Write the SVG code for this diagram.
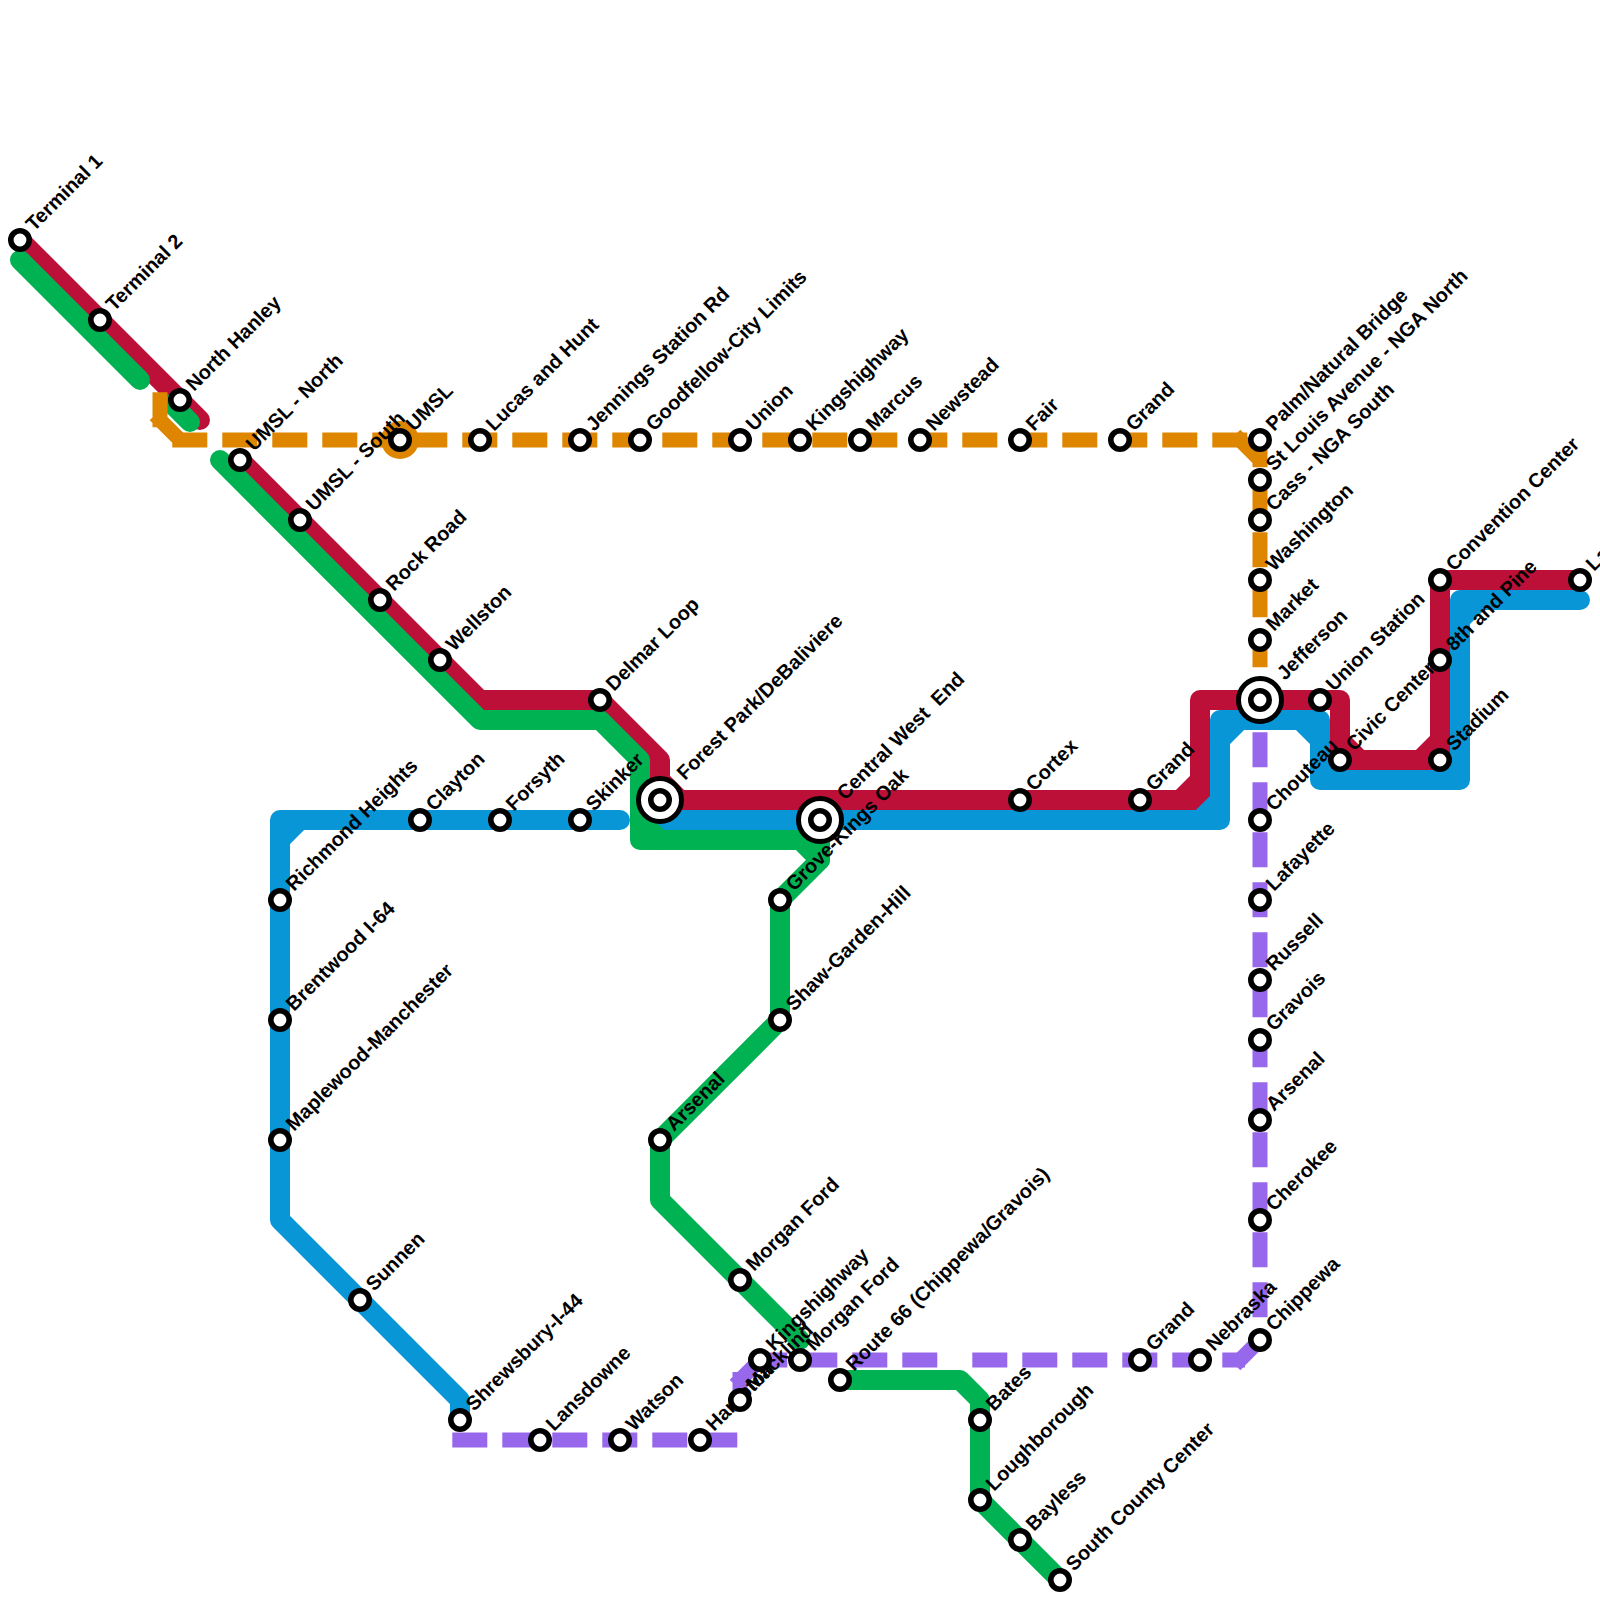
<svg xmlns="http://www.w3.org/2000/svg" width="1600" height="1600" viewBox="0 0 1600 1600">
<style>
.l{fill:none;stroke-width:20;stroke-linecap:round;stroke-linejoin:round}
.d{fill:none;stroke-width:15;stroke-linecap:butt;stroke-linejoin:miter}
.da{stroke-dasharray:35 15}
.r{stroke:#bd1038}.g{stroke:#00b251}.b{stroke:#0896d7}.o{stroke:#df8600}.p{stroke:#9768ec}
.s{fill:#fff;stroke:#000;stroke-width:5.6}
.x{fill:#fff;stroke:#000;stroke-width:5}
text{font-family:"Liberation Sans",Arial,sans-serif;font-size:20px;font-weight:700;fill:#000;white-space:pre}
</style>
<rect width="1600" height="1600" fill="#fff"/>
<g id="connectors">
<path class="l r" d="M20,240L200,420M240,460L480,700H600L660,760V800H1200V700H1340V760H1440V580H1580"/>
<path class="l r" d="M660,780L680,800M1180,800L1200,780M1340,740L1360,760M1420,760L1440,740"/>
<path class="l b" d="M620,820H280V1220L460,1400V1420"/>
<path class="l b" d="M300,820L280,840M660,820H1220V720H1320V780H1460V600H1580"/>
<path class="l b" d="M1200,820L1220,800M1220,740L1240,720M1300,720L1320,740M1320,760L1340,780M1440,780L1460,760M1460,620L1480,600"/>
<path class="l g" d="M20,260L140,380M172,404L190,422M220,460L480,720H600L640,760V840H820V860L780,900V1020L660,1140V1200L800,1340"/>
<path class="l g" d="M640,820L660,840M800,840L820,860M840,1380H960L980,1400V1500L1060,1580"/>
<path class="d da p" d="M1260,732.3V1317.3"/>
<path class="d da p" d="M452.3,1440H737.3"/>
<path class="d da p" d="M752.3,1360H937.3"/>
<path class="d da p" d="M972.3,1360H1245"/>
<path class="d p" d="M1265,1335L1235,1365M765,1355L735,1385M740,1372V1407"/>
<circle cx="400" cy="440" r="19" fill="#df8600"/>
<path class="d o" d="M160,392.3V427.3M155,415L180,440M1235,435L1258,458"/>
<path class="d da o" d="M172.3,440H407.3"/>
<path class="d da o" d="M412.3,440H1247.3"/>
<path class="d da o" d="M1260,432.3V667.3"/>
</g>
<g id="n1"><circle class="s" cx="20" cy="240" r="9.2"/><text transform="translate(34,232) rotate(-45)">Terminal 1</text></g>
<g id="n2"><circle class="s" cx="100" cy="320" r="9.2"/><text transform="translate(114,312) rotate(-45)">Terminal 2</text></g>
<g id="n3"><circle class="s" cx="180" cy="400" r="9.2"/><text transform="translate(194,392) rotate(-45)">North Hanley</text></g>
<g id="n4"><circle class="s" cx="240" cy="460" r="9.2"/><text transform="translate(254,452) rotate(-45)">UMSL - North</text></g>
<g id="n5"><circle class="s" cx="300" cy="520" r="9.2"/><text transform="translate(314,512) rotate(-45)">UMSL - South</text></g>
<g id="n6"><circle class="s" cx="380" cy="600" r="9.2"/><text transform="translate(394,592) rotate(-45)">Rock Road</text></g>
<g id="n7"><circle class="s" cx="440" cy="660" r="9.2"/><text transform="translate(454,652) rotate(-45)">Wellston</text></g>
<g id="n8"><circle class="s" cx="600" cy="700" r="9.2"/><text transform="translate(614,692) rotate(-45)">Delmar Loop</text></g>
<g id="n9"><circle class="x" cx="660" cy="800" r="21.5"/><circle class="s" cx="660" cy="800" r="9.2"/><text transform="translate(685,781) rotate(-45)">Forest Park/DeBaliviere</text></g>
<g id="n10"><circle class="x" cx="820" cy="820" r="21.5"/><circle class="s" cx="820" cy="820" r="9.2"/><text transform="translate(845,801) rotate(-45)">Central West  End</text></g>
<g id="n11"><circle class="s" cx="1020" cy="800" r="9.2"/><text transform="translate(1034,792) rotate(-45)">Cortex</text></g>
<g id="n12"><circle class="s" cx="1140" cy="800" r="9.2"/><text transform="translate(1154,792) rotate(-45)">Grand</text></g>
<g id="n13"><circle class="x" cx="1260" cy="700" r="21.5"/><circle class="s" cx="1260" cy="700" r="9.2"/><text transform="translate(1285,681) rotate(-45)">Jefferson</text></g>
<g id="n14"><circle class="s" cx="1320" cy="700" r="9.2"/><text transform="translate(1334,692) rotate(-45)">Union Station</text></g>
<g id="n15"><circle class="s" cx="1340" cy="760" r="9.2"/><text transform="translate(1354,752) rotate(-45)">Civic Center</text></g>
<g id="n16"><circle class="s" cx="1440" cy="760" r="9.2"/><text transform="translate(1454,752) rotate(-45)">Stadium</text></g>
<g id="n17"><circle class="s" cx="1440" cy="660" r="9.2"/><text transform="translate(1454,652) rotate(-45)">8th and Pine</text></g>
<g id="n18"><circle class="s" cx="1440" cy="580" r="9.2"/><text transform="translate(1454,572) rotate(-45)">Convention Center</text></g>
<g id="n19"><circle class="s" cx="1580" cy="580" r="9.2"/><text transform="translate(1594,572) rotate(-45)">Laclede's Landing</text></g>
<g id="n20"><circle class="s" cx="400" cy="440" r="9.2"/><text transform="translate(414,432) rotate(-45)">UMSL</text></g>
<g id="n21"><circle class="s" cx="480" cy="440" r="9.2"/><text transform="translate(494,432) rotate(-45)">Lucas and Hunt</text></g>
<g id="n22"><circle class="s" cx="580" cy="440" r="9.2"/><text transform="translate(594,432) rotate(-45)">Jennings Station Rd</text></g>
<g id="n23"><circle class="s" cx="640" cy="440" r="9.2"/><text transform="translate(654,432) rotate(-45)">Goodfellow-City Limits</text></g>
<g id="n24"><circle class="s" cx="740" cy="440" r="9.2"/><text transform="translate(754,432) rotate(-45)">Union</text></g>
<g id="n25"><circle class="s" cx="800" cy="440" r="9.2"/><text transform="translate(814,432) rotate(-45)">Kingshighway</text></g>
<g id="n26"><circle class="s" cx="860" cy="440" r="9.2"/><text transform="translate(874,432) rotate(-45)">Marcus</text></g>
<g id="n27"><circle class="s" cx="920" cy="440" r="9.2"/><text transform="translate(934,432) rotate(-45)">Newstead</text></g>
<g id="n28"><circle class="s" cx="1020" cy="440" r="9.2"/><text transform="translate(1034,432) rotate(-45)">Fair</text></g>
<g id="n29"><circle class="s" cx="1120" cy="440" r="9.2"/><text transform="translate(1134,432) rotate(-45)">Grand</text></g>
<g id="n30"><circle class="s" cx="1260" cy="440" r="9.2"/><text transform="translate(1274,432) rotate(-45)">Palm/Natural Bridge</text></g>
<g id="n31"><circle class="s" cx="1260" cy="480" r="9.2"/><text transform="translate(1274,472) rotate(-45)">St Louis Avenue - NGA North</text></g>
<g id="n32"><circle class="s" cx="1260" cy="520" r="9.2"/><text transform="translate(1274,512) rotate(-45)">Cass - NGA South</text></g>
<g id="n33"><circle class="s" cx="1260" cy="580" r="9.2"/><text transform="translate(1274,572) rotate(-45)">Washington</text></g>
<g id="n34"><circle class="s" cx="1260" cy="640" r="9.2"/><text transform="translate(1274,632) rotate(-45)">Market</text></g>
<g id="n35"><circle class="s" cx="280" cy="900" r="9.2"/><text transform="translate(294,892) rotate(-45)">Richmond Heights</text></g>
<g id="n36"><circle class="s" cx="280" cy="1020" r="9.2"/><text transform="translate(294,1012) rotate(-45)">Brentwood I-64</text></g>
<g id="n37"><circle class="s" cx="280" cy="1140" r="9.2"/><text transform="translate(294,1132) rotate(-45)">Maplewood-Manchester</text></g>
<g id="n38"><circle class="s" cx="360" cy="1300" r="9.2"/><text transform="translate(374,1292) rotate(-45)">Sunnen</text></g>
<g id="n39"><circle class="s" cx="460" cy="1420" r="9.2"/><text transform="translate(474,1412) rotate(-45)">Shrewsbury-I-44</text></g>
<g id="n40"><circle class="s" cx="420" cy="820" r="9.2"/><text transform="translate(434,812) rotate(-45)">Clayton</text></g>
<g id="n41"><circle class="s" cx="500" cy="820" r="9.2"/><text transform="translate(514,812) rotate(-45)">Forsyth</text></g>
<g id="n42"><circle class="s" cx="580" cy="820" r="9.2"/><text transform="translate(594,812) rotate(-45)">Skinker</text></g>
<g id="n43"><circle class="s" cx="540" cy="1440" r="9.2"/><text transform="translate(554,1432) rotate(-45)">Lansdowne</text></g>
<g id="n44"><circle class="s" cx="620" cy="1440" r="9.2"/><text transform="translate(634,1432) rotate(-45)">Watson</text></g>
<g id="n45"><circle class="s" cx="700" cy="1440" r="9.2"/><text transform="translate(714,1432) rotate(-45)">Hampton</text></g>
<g id="n46"><circle class="s" cx="740" cy="1400" r="9.2"/><text transform="translate(754,1392) rotate(-45)">Macklind</text></g>
<g id="n47"><circle class="s" cx="760" cy="1360" r="9.2"/><text transform="translate(774,1352) rotate(-45)">Kingshighway</text></g>
<g id="n48"><circle class="s" cx="800" cy="1360" r="9.2"/><text transform="translate(814,1352) rotate(-45)">Morgan Ford</text></g>
<g id="n49"><circle class="s" cx="1140" cy="1360" r="9.2"/><text transform="translate(1154,1352) rotate(-45)">Grand</text></g>
<g id="n50"><circle class="s" cx="1200" cy="1360" r="9.2"/><text transform="translate(1214,1352) rotate(-45)">Nebraska</text></g>
<g id="n51"><circle class="s" cx="1260" cy="1340" r="9.2"/><text transform="translate(1274,1332) rotate(-45)">Chippewa</text></g>
<g id="n52"><circle class="s" cx="1260" cy="1220" r="9.2"/><text transform="translate(1274,1212) rotate(-45)">Cherokee</text></g>
<g id="n53"><circle class="s" cx="1260" cy="1120" r="9.2"/><text transform="translate(1274,1112) rotate(-45)">Arsenal</text></g>
<g id="n54"><circle class="s" cx="1260" cy="1040" r="9.2"/><text transform="translate(1274,1032) rotate(-45)">Gravois</text></g>
<g id="n55"><circle class="s" cx="1260" cy="980" r="9.2"/><text transform="translate(1274,972) rotate(-45)">Russell</text></g>
<g id="n56"><circle class="s" cx="1260" cy="900" r="9.2"/><text transform="translate(1274,892) rotate(-45)">Lafayette</text></g>
<g id="n57"><circle class="s" cx="1260" cy="820" r="9.2"/><text transform="translate(1274,812) rotate(-45)">Chouteau</text></g>
<g id="n58"><circle class="s" cx="780" cy="900" r="9.2"/><text transform="translate(794,892) rotate(-45)">Grove-Kings Oak</text></g>
<g id="n59"><circle class="s" cx="780" cy="1020" r="9.2"/><text transform="translate(794,1012) rotate(-45)">Shaw-Garden-Hill</text></g>
<g id="n60"><circle class="s" cx="660" cy="1140" r="9.2"/><text transform="translate(674,1132) rotate(-45)">Arsenal</text></g>
<g id="n61"><circle class="s" cx="740" cy="1280" r="9.2"/><text transform="translate(754,1272) rotate(-45)">Morgan Ford</text></g>
<g id="n62"><circle class="s" cx="840" cy="1380" r="9.2"/><text transform="translate(854,1372) rotate(-45)">Route 66 (Chippewa/Gravois)</text></g>
<g id="n63"><circle class="s" cx="980" cy="1420" r="9.2"/><text transform="translate(994,1412) rotate(-45)">Bates</text></g>
<g id="n64"><circle class="s" cx="980" cy="1500" r="9.2"/><text transform="translate(994,1492) rotate(-45)">Loughborough</text></g>
<g id="n65"><circle class="s" cx="1020" cy="1540" r="9.2"/><text transform="translate(1034,1532) rotate(-45)">Bayless</text></g>
<g id="n66"><circle class="s" cx="1060" cy="1580" r="9.2"/><text transform="translate(1074,1572) rotate(-45)">South County Center</text></g>
</svg>
